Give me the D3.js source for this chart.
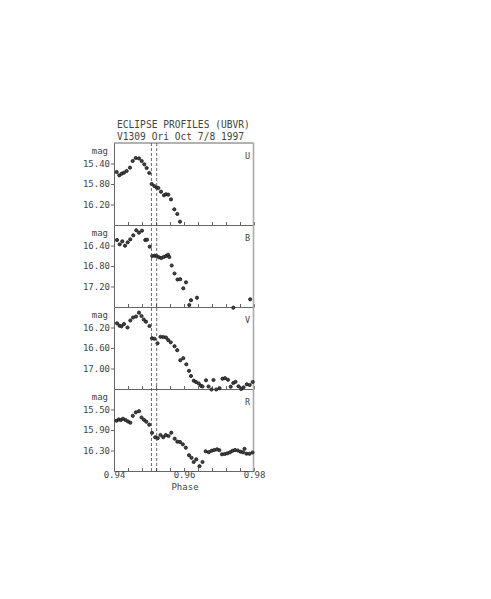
<!DOCTYPE html>
<html>
<head>
<meta charset="utf-8">
<script src="https://cdn.jsdelivr.net/npm/d3@7"></script>
<style>
  body { margin: 0; background: #fff; }
  text { font-family: "DejaVu Sans Mono", monospace; fill: #444; }
</style>
</head>
<body>
<script>
const bands = ["U", "B", "V", "R"];
const magDomains = [[15.0, 16.6], [16.0, 17.6], [15.8, 17.4], [15.1, 16.7]];
const magTicks = [[15.40, 15.80, 16.20], [16.40, 16.80, 17.20], [16.20, 16.60, 17.00], [15.50, 15.90, 16.30]];
const phaseTicks = [0.94, 0.96, 0.98];
const contactPhases = [0.9507, 0.9522];

const uPhase = [0.94076, 0.94152, 0.9422, 0.94286, 0.94362, 0.94457, 0.94533, 0.9462, 0.94714, 0.94791, 0.94867, 0.94933, 0.95009,
  0.95076, 0.95152, 0.9522, 0.95267, 0.95343, 0.95429, 0.95486, 0.95552, 0.95629, 0.95723, 0.95809, 0.95886];
const uMag = [15.566, 15.631, 15.598, 15.579, 15.546, 15.481, 15.351, 15.293, 15.300, 15.351, 15.416, 15.488, 15.585,
  15.800, 15.839, 15.872, 15.878, 15.950, 16.020, 16.000, 16.008, 16.100, 16.294, 16.385, 16.535];

const bPhase = [0.94086, 0.94163, 0.94237, 0.94314, 0.94391, 0.94466, 0.94551, 0.94637, 0.94714, 0.948, 0.94894, 0.94943,
  0.9502, 0.95094, 0.95163, 0.9522, 0.95286, 0.95351, 0.9542, 0.95486, 0.95543, 0.9558, 0.95649, 0.95729, 0.95814,
  0.95891, 0.9598, 0.96057, 0.96151, 0.962, 0.96371, 0.97409, 0.97891];
const bMag = [16.293, 16.377, 16.318, 16.404, 16.338, 16.279, 16.201, 16.103, 16.150, 16.111, 16.293, 16.287,
  16.423, 16.605, 16.599, 16.605, 16.630, 16.644, 16.624, 16.605, 16.580, 16.624, 16.790, 16.946, 17.063,
  17.058, 17.235, 17.118, 17.561, 17.467, 17.419, 17.614, 17.450];

const vPhase = [0.94086, 0.94157, 0.94214, 0.94286, 0.94386, 0.94466, 0.94543, 0.94629, 0.94714, 0.94786, 0.94851, 0.94914,
  0.95014, 0.95086, 0.95157, 0.95243, 0.95329, 0.95409, 0.95486, 0.95549, 0.9562, 0.95729, 0.95806, 0.95894, 0.9598,
  0.96066, 0.96143, 0.962, 0.9628, 0.96343, 0.96423, 0.96486, 0.96529, 0.96629, 0.967, 0.96786, 0.96843, 0.9692,
  0.97014, 0.971, 0.97171, 0.97257, 0.97334, 0.97409, 0.97471, 0.97557, 0.97634, 0.977, 0.97794, 0.97877, 0.97963];
const vMag = [16.118, 16.165, 16.177, 16.132, 16.200, 16.063, 16.005, 15.985, 15.911, 15.976, 16.044, 16.087,
  16.171, 16.409, 16.420, 16.508, 16.381, 16.385, 16.395, 16.444, 16.489, 16.565, 16.643, 16.840, 16.799,
  16.918, 17.045, 17.146, 17.238, 17.263, 17.293, 17.338, 17.351, 17.230, 17.351, 17.410, 17.224, 17.410,
  17.384, 17.199, 17.189, 17.220, 17.355, 17.283, 17.260, 17.347, 17.400, 17.367, 17.308, 17.322, 17.263];

const rPhase = [0.94071, 0.94137, 0.94194, 0.94257, 0.94329, 0.944, 0.94466, 0.94537, 0.94623, 0.94714, 0.94786, 0.94857,
  0.94923, 0.95006, 0.95086, 0.95177, 0.95249, 0.95329, 0.95409, 0.9548, 0.95557, 0.95637, 0.95734, 0.95809, 0.95886,
  0.95966, 0.96051, 0.96143, 0.96214, 0.96277, 0.96351, 0.96443, 0.96529, 0.9662, 0.96709, 0.96791, 0.96866, 0.96943,
  0.97009, 0.97086, 0.97163, 0.97237, 0.97314, 0.97386, 0.97457, 0.97537, 0.97614, 0.97686, 0.97729, 0.97786, 0.97871, 0.97957];
const rMag = [15.719, 15.695, 15.705, 15.680, 15.705, 15.734, 15.758, 15.623, 15.555, 15.533, 15.656, 15.701,
  15.738, 15.797, 15.955, 16.042, 16.060, 15.998, 16.040, 15.998, 16.017, 15.953, 16.070, 16.128, 16.134,
  16.179, 16.245, 16.392, 16.442, 16.524, 16.472, 16.606, 16.524, 16.316, 16.333, 16.304, 16.290, 16.277,
  16.294, 16.374, 16.368, 16.355, 16.335, 16.306, 16.290, 16.300, 16.323, 16.335, 16.267, 16.362, 16.364, 16.339];

const phases = [uPhase, bPhase, vPhase, rPhase];
const mags = [uMag, bMag, vMag, rMag];

const width = 491, height = 599;
const plotLeft = 114, plotRight = 254, plotTop = 143, panelH = 82;

const svg = d3.select("body").append("svg")
  .attr("width", width)
  .attr("height", height);

const x = d3.scaleLinear().domain([0.94, 0.98]).range([plotLeft, plotRight]);
const minorTicks = d3.range(11).map(i => 0.94 + i * 0.004);
const fmt = d3.format(".2f");

// title
svg.append("text").attr("x", 117).attr("y", 127.5)
  .style("font-size", "9.6px").text("ECLIPSE PROFILES (UBVR)");
svg.append("text").attr("x", 117).attr("y", 139.5)
  .style("font-size", "9.6px").text("V1309 Ori Oct 7/8 1997");

bands.forEach((band, i) => {
  const y0 = plotTop + i * panelH;
  const y = d3.scaleLinear().domain(magDomains[i]).range([y0, y0 + panelH]);
  const g = svg.append("g");

  // bottom axis (minor ticks inward)
  const last = i === bands.length - 1;
  const xa = g.append("g")
    .attr("transform", `translate(0,${y0 + panelH})`)
    .call(d3.axisBottom(x)
      .tickValues(minorTicks)
      .tickSizeInner(-3)
      .tickSizeOuter(0)
      .tickPadding(1)
      .tickFormat(d => last && phaseTicks.some(t => Math.abs(t - d) < 1e-9) ? fmt(d) : ""));
  xa.select(".domain").attr("stroke", "#666");
  xa.selectAll(".tick line").attr("stroke", "#666");
  xa.selectAll("text").style("font-size", "9px").attr("fill", "#444").attr("font-family", null);

  // left axis
  const ya = g.append("g")
    .attr("transform", `translate(${plotLeft},0)`)
    .call(d3.axisLeft(y)
      .tickValues(magTicks[i])
      .tickSize(3)
      .tickPadding(1)
      .tickSizeOuter(0)
      .tickFormat(fmt));
  ya.select(".domain").attr("stroke", "#666");
  ya.selectAll(".tick line").attr("stroke", "#666");
  ya.selectAll("text").style("font-size", "9px").attr("fill", "#444").attr("font-family", null);

  // top line for the first panel, right border
  if (i === 0) {
    g.append("line").attr("x1", plotLeft).attr("x2", plotRight - 0.5)
      .attr("y1", y0).attr("y2", y0).attr("stroke", "#666");
  }
  g.append("line").attr("x1", plotRight - 0.5).attr("x2", plotRight - 0.5)
    .attr("y1", y0).attr("y2", y0 + panelH)
    .attr("stroke", "#aaa").attr("stroke-width", 1.6);

  g.append("text").attr("x", plotLeft - 6).attr("y", y0 + 11)
    .attr("text-anchor", "end").style("font-size", "9px").text("mag");

  g.append("text").attr("x", 247.5).attr("y", y0 + 15.5)
    .attr("text-anchor", "middle").style("font-size", "8.5px").text(band);

  g.selectAll("circle")
    .data(phases[i].map((p, k) => ({ p, m: mags[i][k] })))
    .join("circle")
    .attr("cx", d => x(d.p))
    .attr("cy", d => y(d.m))
    .attr("r", 1.6)
    .attr("fill", "#444")
    .attr("stroke", "#111")
    .attr("stroke-width", 0.8);
});

// contact lines
svg.selectAll(".contact")
  .data(contactPhases)
  .join("line")
  .attr("class", "contact")
  .attr("x1", d => x(d)).attr("x2", d => x(d))
  .attr("y1", plotTop).attr("y2", plotTop + bands.length * panelH)
  .attr("stroke", "#444")
  .attr("stroke-width", 0.8)
  .attr("stroke-dasharray", "3,2");

svg.append("text").attr("x", 185).attr("y", 489.5)
  .attr("text-anchor", "middle").style("font-size", "9px").text("Phase");
</script>
</body>
</html>
